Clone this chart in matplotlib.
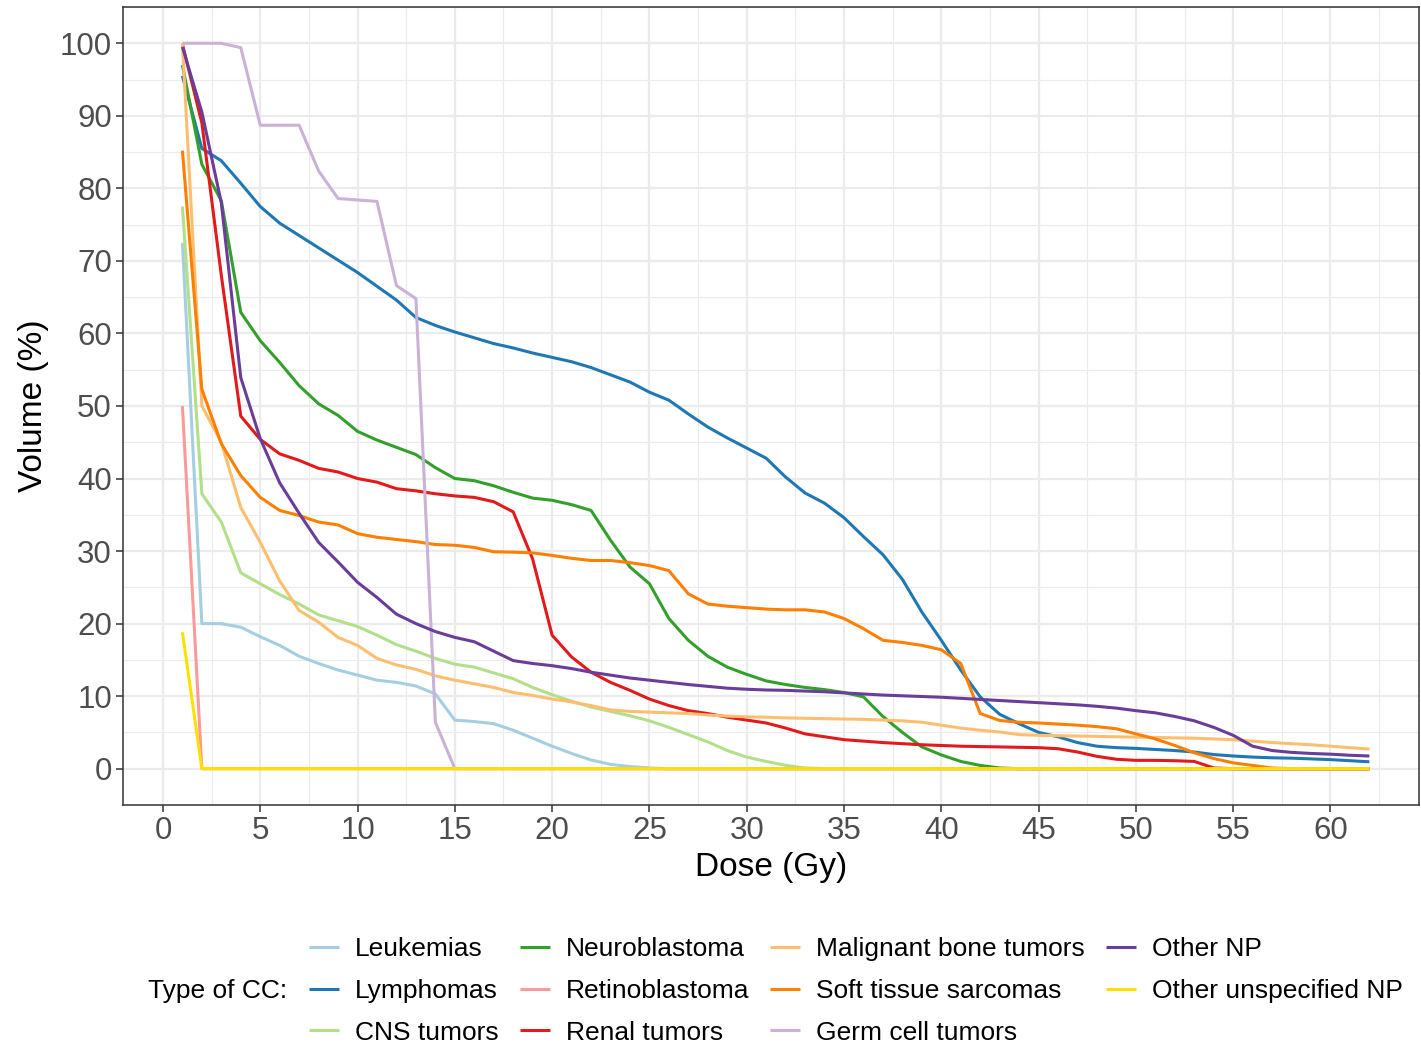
import matplotlib.pyplot as plt
import numpy as np
from matplotlib.ticker import MultipleLocator

plt.rcParams["font.family"] = ["Liberation Sans", "DejaVu Sans"]

dose = np.arange(1, 63)

leukemias = [72.5, 20, 20, 19.5, 18.2, 17, 15.5, 14.5, 13.6, 12.9, 12.2, 11.9, 11.4, 10.3, 6.7,
             6.5, 6.2, 5.3, 4.2, 3.1, 2.1, 1.2, 0.6, 0.3, 0.1] + [0] * 37
lymphomas = [95.5, 85.5, 83.8, 80.7, 77.5, 75.2, 73.5, 71.8, 70.1, 68.4, 66.5, 64.6, 62.2, 61.1, 60.2,
             59.4, 58.6, 58.0, 57.3, 56.7, 56.1, 55.3, 54.3, 53.3, 51.9, 50.8, 48.9, 47.1, 45.6, 44.2,
             42.8, 40.2, 38.0, 36.6, 34.6, 32.0, 29.5, 26.1, 21.6, 17.7, 13.6, 9.9, 7.5, 6.2, 5.0,
             4.4, 3.6, 3.1, 2.9, 2.8, 2.65, 2.5, 2.3, 1.95, 1.75, 1.6, 1.5, 1.45, 1.35, 1.25, 1.1, 0.95]
cns = [77.5, 37.9, 34.0, 27.0, 25.5, 24.0, 22.7, 21.2, 20.4, 19.6, 18.4, 17.1, 16.2, 15.2, 14.4,
       14.0, 13.2, 12.4, 11.2, 10.2, 9.3, 8.5, 7.9, 7.3, 6.6, 5.7, 4.7, 3.7, 2.5, 1.6,
       1.0, 0.46, 0.1] + [0] * 29
neuroblastoma = [97, 83.3, 78.3, 62.9, 59.0, 56.0, 52.8, 50.3, 48.7, 46.5, 45.3, 44.3, 43.3, 41.5, 40.0,
                 39.7, 39.0, 38.1, 37.3, 37.0, 36.4, 35.6, 31.5, 27.8, 25.5, 20.7, 17.7, 15.5, 14.0, 13.0,
                 12.1, 11.6, 11.2, 10.9, 10.5, 9.9, 7.2, 5.0, 3.0, 1.9, 1.0, 0.45, 0.1] + [0] * 19
retinoblastoma = [50] + [0] * 61
renal = [99.9, 89, 68, 48.6, 45.4, 43.4, 42.5, 41.4, 40.9, 40.0, 39.5, 38.6, 38.3, 37.9, 37.6,
         37.4, 36.8, 35.4, 28.9, 18.4, 15.4, 13.3, 11.9, 10.8, 9.6, 8.7, 8.0, 7.6, 7.1, 6.7,
         6.3, 5.6, 4.8, 4.4, 4.0, 3.8, 3.6, 3.45, 3.3, 3.2, 3.1, 3.05, 3.0, 2.95, 2.9,
         2.75, 2.3, 1.7, 1.3, 1.15, 1.15, 1.1, 1.0, 0.1] + [0] * 8
bone = [100, 50, 45, 36, 31.2, 25.9, 21.8, 20.2, 18.1, 17.0, 15.2, 14.3, 13.7, 12.8, 12.2,
        11.7, 11.2, 10.5, 10.1, 9.6, 9.2, 8.7, 8.1, 7.9, 7.8, 7.7, 7.6, 7.4, 7.25, 7.15,
        7.1, 7.0, 6.95, 6.9, 6.85, 6.8, 6.7, 6.6, 6.4, 6.0, 5.6, 5.3, 5.05, 4.7, 4.6,
        4.55, 4.5, 4.45, 4.4, 4.35, 4.3, 4.25, 4.2, 4.1, 4.0, 3.8, 3.6, 3.45, 3.3, 3.1, 2.9, 2.7]
soft_tissue = [85.2, 52.3, 44.8, 40.4, 37.4, 35.6, 34.9, 34.0, 33.6, 32.4, 31.9, 31.6, 31.3, 30.9, 30.8,
               30.5, 29.9, 29.85, 29.75, 29.4, 29.0, 28.7, 28.7, 28.4, 28.0, 27.3, 24.1, 22.7, 22.4, 22.2,
               22.0, 21.9, 21.9, 21.6, 20.7, 19.3, 17.7, 17.4, 17.0, 16.4, 14.5, 7.6, 6.65, 6.4, 6.3,
               6.15, 6.0, 5.8, 5.5, 4.8, 4.1, 3.2, 2.2, 1.4, 0.8, 0.45, 0.1] + [0] * 5
germ_cell = [100, 100, 100, 99.4, 88.7, 88.7, 88.7, 82.4, 78.6, 78.4, 78.2, 66.6, 64.8, 6.4, 0] + [0] * 47
other_np = [99.5, 90.5, 78.0, 53.9, 45.5, 39.4, 35.2, 31.2, 28.5, 25.7, 23.6, 21.3, 20.0, 18.9, 18.1,
            17.5, 16.2, 14.9, 14.5, 14.2, 13.8, 13.3, 12.9, 12.5, 12.2, 11.9, 11.6, 11.35, 11.1, 10.95,
            10.85, 10.8, 10.7, 10.6, 10.45, 10.3, 10.15, 10.05, 9.95, 9.85, 9.7, 9.55, 9.4, 9.25, 9.1,
            8.95, 8.8, 8.6, 8.35, 8.0, 7.7, 7.2, 6.6, 5.7, 4.6, 3.1, 2.5, 2.25, 2.1, 2.0, 1.85, 1.75]
other_unspec = [18.8] + [0] * 61

labels = ["Leukemias", "Lymphomas", "CNS tumors", "Neuroblastoma", "Retinoblastoma", "Renal tumors",
          "Malignant bone tumors", "Soft tissue sarcomas", "Germ cell tumors", "Other NP",
          "Other unspecified NP"]
series = [leukemias, lymphomas, cns, neuroblastoma, retinoblastoma, renal, bone, soft_tissue,
          germ_cell, other_np, other_unspec]
colors = ["#A6CEE3", "#1F78B4", "#B2DF8A", "#33A02C", "#FB9A99", "#E31A1C", "#FDBF6F", "#FF7F00",
          "#CAB2D6", "#6A3D9A", "#FFE000"]

fig = plt.figure(figsize=(14.21, 10.45), dpi=100)
ax = fig.add_axes([0.0866, 0.2297, 0.912, 0.7636])

for vals, lab, col in zip(series, labels, colors):
    ax.plot(dose, vals, color=col, lw=2.2, label=lab, solid_capstyle="butt")

ax.set_xlim(-2.05, 64.55)
ax.set_ylim(-5, 105)
ax.xaxis.set_major_locator(MultipleLocator(5))
ax.xaxis.set_minor_locator(MultipleLocator(2.5))
ax.yaxis.set_major_locator(MultipleLocator(10))
ax.yaxis.set_minor_locator(MultipleLocator(5))
ax.grid(which="major", color="#EBEBEB", lw=1.6)
ax.grid(which="minor", color="#EBEBEB", lw=0.8)
ax.set_axisbelow(True)
for s in ax.spines.values():
    s.set_color("#333333")
    s.set_linewidth(1.1)
ax.tick_params(which="major", length=5, width=1.1, color="#333333", labelcolor="#4D4D4D",
               labelsize=22.5, pad=3)
ax.tick_params(which="minor", length=0)

ax.set_xlabel("Dose (Gy)", fontsize=24, labelpad=4)
ax.set_ylabel("Volume (%)", fontsize=24, labelpad=8)

fig.legend(loc="center left", bbox_to_anchor=(0.2175, 0.0519), ncol=4, frameon=False,
           fontsize=19, handlelength=1.14, handletextpad=0.6, columnspacing=0.8,
           labelspacing=0.68, borderaxespad=0, borderpad=0)
fig.text(0.104, 0.0519, "Type of CC:", fontsize=19, va="center", ha="left")

fig.savefig("out.png", dpi=100)
